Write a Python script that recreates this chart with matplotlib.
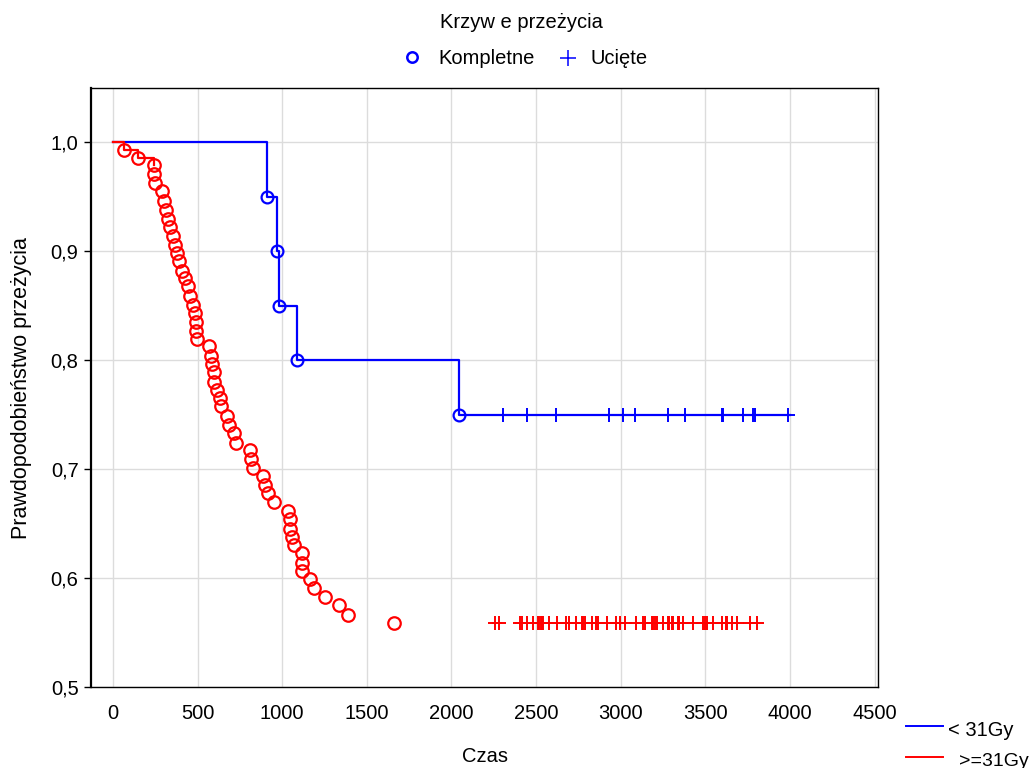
#!/usr/bin/env python3
"""Kaplan-Meier survival curves, two dose groups (STATISTICA-style look)."""

import matplotlib

matplotlib.use("Agg")
import matplotlib.pyplot as plt
from matplotlib.lines import Line2D

plt.rcParams["font.family"] = ["Liberation Sans", "DejaVu Sans"]

W, H = 1031, 768

# group < 31Gy: completed (event) times and survival after each event
blue_event_t = [908, 970, 978, 1087, 2042]
blue_event_s = [0.95, 0.90, 0.85, 0.80, 0.75]
blue_cens_t = [2306, 2448, 2616, 2932, 3015, 3084, 3277, 3381, 3596, 3606,
               3724, 3783, 3793, 3986]
blue_cens_s = 0.75
blue_end_t = 4000

# group >=31Gy
red_event_t = [67, 149, 242, 244, 251, 290, 301, 313, 327, 337,
               356, 366, 380, 387, 406, 425, 441, 455, 473, 484,
               490, 493, 495, 567, 577, 587, 597, 599, 613, 632,
               636, 672, 685, 717, 725, 809, 814, 825, 884, 898,
               918, 953, 1036, 1046, 1046, 1059, 1071, 1115, 1115, 1115,
               1164, 1189, 1251, 1335, 1390, 1660]
red_event_s = [0.9929, 0.9856, 0.9789, 0.9710, 0.9630, 0.9550, 0.9467, 0.9384, 0.9301, 0.9225,
               0.9139, 0.9063, 0.8986, 0.8909, 0.8824, 0.8756, 0.8681, 0.8587, 0.8511, 0.8438,
               0.8348, 0.8272, 0.8196, 0.8128, 0.8042, 0.7966, 0.7889, 0.7797, 0.7723, 0.7653,
               0.7576, 0.7484, 0.7408, 0.7332, 0.7240, 0.7172, 0.7093, 0.7010, 0.6933, 0.6857,
               0.6781, 0.6700, 0.6620, 0.6541, 0.6449, 0.6381, 0.6302, 0.6234, 0.6143, 0.6069,
               0.5993, 0.5906, 0.5830, 0.5754, 0.5662, 0.5590]
red_cens_t = [2257, 2283, 2405, 2415, 2448, 2484, 2509, 2517, 2527, 2535,
              2542, 2578, 2625, 2675, 2694, 2734, 2769, 2779, 2789, 2828,
              2854, 2864, 2921, 2970, 2996, 3025, 3088, 3133, 3143, 3183,
              3192, 3202, 3212, 3248, 3277, 3287, 3301, 3311, 3336, 3346,
              3370, 3429, 3488, 3498, 3508, 3547, 3596, 3622, 3630, 3656,
              3685, 3764, 3807]
red_cens_s = 0.559
red_line_t = [0, 67, 149, 244]
red_line_s = [1.0, 0.9929, 0.9856, 0.9789]

x_ticks = [0, 500, 1000, 1500, 2000, 2500, 3000, 3500, 4000, 4500]
y_ticks = [0.5, 0.6, 0.7, 0.8, 0.9, 1.0]
y_tick_labels = ["0,5", "0,6", "0,7", "0,8", "0,9", "1,0"]

BLUE = "#0000ff"
RED = "#ff0000"
FS = 14.5


def fx(px):
    return px / W


def fy(py):
    return 1 - py / H


def main() -> None:
    fig = plt.figure(figsize=(W / 100, H / 100), dpi=100)
    ax = fig.add_axes([fx(91), fy(687), fx(878) - fx(91), fy(88) - fy(687)])

    # blue group
    bt = [0] + blue_event_t + [blue_end_t]
    bs = [1.0] + blue_event_s + [blue_event_s[-1]]
    ax.step(bt, bs, where="post", color=BLUE, lw=1.6, zorder=3)
    ax.plot(blue_cens_t, [blue_cens_s] * len(blue_cens_t), ls="none", marker="+",
            ms=10, mew=1.4, color=BLUE, zorder=4)
    ax.plot(blue_event_t, blue_event_s, ls="none", marker="o", ms=8.5,
            mfc="none", mec=BLUE, mew=1.6, zorder=5)

    # red group
    ax.step(red_line_t, red_line_s, where="post", color=RED, lw=1.6, zorder=6)
    ax.plot(red_cens_t, [red_cens_s] * len(red_cens_t), ls="none", marker="+",
            ms=10, mew=1.4, color=RED, zorder=6)
    ax.plot(red_event_t, red_event_s, ls="none", marker="o", ms=9,
            mfc="none", mec=RED, mew=1.6, zorder=7)

    ax.set_xlim(-130, 4520)
    ax.set_ylim(0.5, 1.05)
    ax.set_xticks(x_ticks)
    ax.set_yticks(y_ticks)
    ax.set_yticklabels(y_tick_labels)
    ax.tick_params(axis="x", length=0, pad=12, labelsize=FS)
    ax.tick_params(axis="y", length=5, width=1, pad=4, labelsize=FS, direction="out")
    ax.grid(True, color="#dcdcdc", linewidth=1.0, zorder=0)
    ax.set_axisbelow(True)
    for spine in ax.spines.values():
        spine.set_color("black")
        spine.set_linewidth(1.0)
    ax.spines["left"].set_linewidth(1.6)

    fig.text(fx(485), fy(757), "Czas", ha="center", va="center", fontsize=FS)
    fig.text(fx(22), fy(388), "Prawdopodobieństwo przeżycia", ha="center",
             va="center", rotation=90, fontsize=15.5)

    # top legend
    fig.text(fx(521), fy(23), "Krzyw e przeżycia", ha="center", va="center", fontsize=FS)
    fig.add_artist(Line2D([fx(412)], [fy(57)], ls="none", marker="o", ms=7.5,
                          mfc="none", mec=BLUE, mew=1.8))
    fig.text(fx(438), fy(58), "Kompletne", ha="left", va="center", fontsize=FS)
    fig.add_artist(Line2D([fx(568)], [fy(58)], ls="none", marker="+", ms=11,
                          mew=1.1, color=BLUE))
    fig.text(fx(590), fy(58), "Ucięte", ha="left", va="center", fontsize=FS)

    # bottom-right legend
    fig.add_artist(Line2D([fx(906), fx(943)], [fy(726), fy(726)], color=BLUE, lw=1.4))
    fig.text(fx(948), fy(730), "< 31Gy", ha="left", va="center", fontsize=FS)
    fig.add_artist(Line2D([fx(906), fx(943)], [fy(757), fy(757)], color=RED, lw=1.4))
    fig.text(fx(1029), fy(761), ">=31Gy", ha="right", va="center", fontsize=14)

    fig.savefig("out.png", dpi=100, facecolor="white")
    plt.close(fig)


if __name__ == "__main__":
    main()
